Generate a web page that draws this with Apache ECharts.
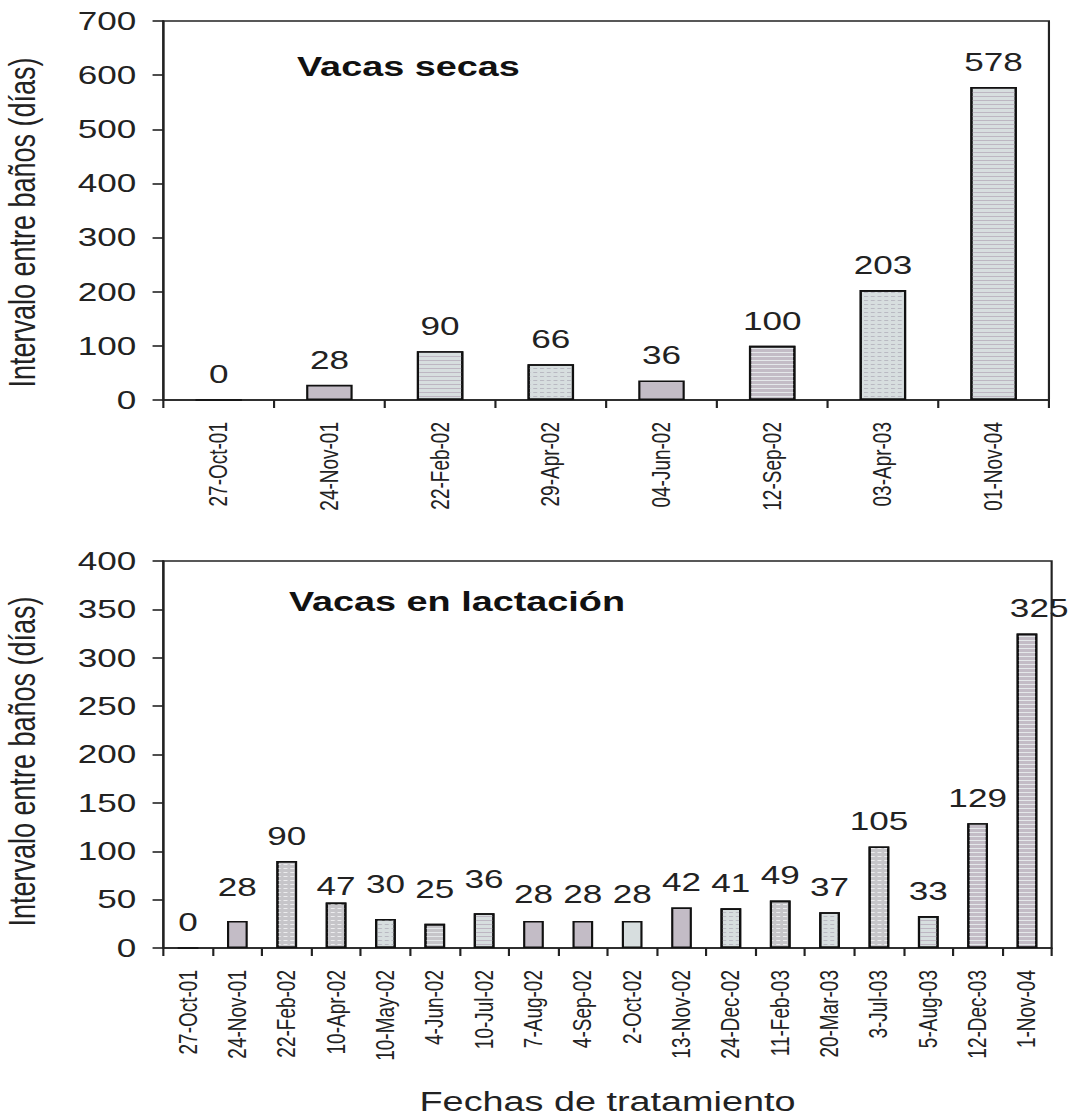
<!DOCTYPE html>
<html>
<head>
<meta charset="utf-8">
<script src="https://cdn.jsdelivr.net/npm/echarts@6/dist/echarts.min.js"></script>
<style>
  html, body { margin: 0; padding: 0; background: #fff; overflow: hidden; }
  /* the figure is laid out narrow and widened horizontally as a whole */
  #chart { width: 796px; height: 1116px; transform: scaleX(1.35); transform-origin: 0 0; }
</style>
</head>
<body>
<div id="chart"></div>
<script>
// Vacas secas: dates of treatment and interval between baths (days)
const dryDates = ['27-Oct-01', '24-Nov-01', '22-Feb-02', '29-Apr-02', '04-Jun-02', '12-Sep-02', '03-Apr-03', '01-Nov-04'];
const dryDays = [0, 28, 90, 66, 36, 100, 203, 578];

// Vacas en lactación
const lactDates = ['27-Oct-01', '24-Nov-01', '22-Feb-02', '10-Apr-02', '10-May-02', '4-Jun-02', '10-Jul-02', '7-Aug-02',
  '4-Sep-02', '2-Oct-02', '13-Nov-02', '24-Dec-02', '11-Feb-03', '20-Mar-03', '3-Jul-03', '5-Aug-03', '12-Dec-03', '1-Nov-04'];
const lactDays = [0, 28, 90, 47, 30, 25, 36, 28, 28, 28, 42, 41, 49, 37, 105, 33, 129, 325];

// y-axis ranges
const dryAxis = { max: 700, step: 100 };
const lactAxis = { max: 400, step: 50 };

// fill pattern of each bar
const dryFill = ['L', 'P', 'Lh', 'Ld', 'P', 'Ph', 'Ld', 'Lh'];
const lactFill = ['L', 'P', 'Gd', 'Gd', 'Ld', 'Gh', 'Lh', 'P', 'P', 'L', 'P', 'Ld', 'Gd', 'Ld', 'Gd', 'Lh', 'Ph', 'Ph'];

// hand-placed value labels in the lactation panel: [dx, lift]
const lactLabelNudge = { 1: [0, 9], 3: [0, -9], 4: [0, 10], 5: [0, 10], 6: [0, 9], 7: [0, 2], 8: [0, 2], 9: [0, 2], 17: [9, 0] };

const FONT = '"Liberation Sans", Arial, Helvetica, sans-serif';
const INK = '#222';
const PURPLE = '#c3bcc6';
const LIGHT = '#d7dedf';
const GREY = '#c6c5c9';

function fillStyle(key) {
  const base = key[0] === 'P' ? PURPLE : key[0] === 'G' ? GREY : LIGHT;
  const style = { color: base, borderColor: '#111', borderWidth: 1.6 };
  if (key[1] === 'h') {
    style.decal = { symbol: 'rect', symbolSize: 1, dashArrayX: [1, 0], dashArrayY: [1, 3], rotation: 0,
      color: key[0] === 'L' ? '#bdb6c2' : '#e4e8ea' };
  } else if (key[1] === 'd') {
    style.decal = { symbol: 'rect', symbolSize: 1, dashArrayX: [3, 2], dashArrayY: [1, 3], rotation: 0,
      color: key[0] === 'L' ? '#b9b9c2' : '#ececee' };
  }
  return style;
}

function barData(values, fills, nudge) {
  return values.map((v, i) => {
    const item = { value: v, itemStyle: fillStyle(fills[i]) };
    const n = nudge && nudge[i];
    if (n) item.label = { offset: [n[0], -n[1]] };
    return item;
  });
}

const axisLine = { show: true, lineStyle: { color: '#222', width: 1.6 } };

function catAxis(gridIndex, dates, extra) {
  return Object.assign({
    type: 'category', gridIndex, data: dates, boundaryGap: true,
    axisLine, axisTick: { show: true, length: 8, inside: false, alignWithLabel: false, lineStyle: { color: '#222', width: 1.6 } },
    axisLabel: { rotate: 90, margin: 22, interval: 0, color: INK, fontFamily: FONT, fontSize: 19 }
  }, extra || {});
}

// shift: moves the rotated axis title down along the axis
function valAxis(gridIndex, range, shift) {
  return {
    type: 'value', gridIndex, min: 0, max: range.max, interval: range.step,
    name: 'Intervalo entre baños (días)', nameLocation: 'middle', nameRotate: 90, nameGap: 91,
    nameTextStyle: { color: INK, fontFamily: FONT, fontSize: 27, padding: [0, shift * 2, 0, 0] },
    axisLine, splitLine: { show: false },
    axisTick: { show: true, length: 8, lineStyle: { color: '#222', width: 1.6 } },
    axisLabel: { margin: 20, color: INK, fontFamily: FONT, fontSize: 26 }
  };
}

const valueLabel = { show: true, position: 'top', distance: 12, color: INK, fontFamily: FONT, fontSize: 26 };

const chart = echarts.init(document.getElementById('chart'), null, { renderer: 'svg' });
chart.setOption({
  animation: false,
  backgroundColor: '#fff',
  title: [
    { text: 'Vacas secas', left: 220, top: 52, padding: 0,
      textStyle: { fontFamily: FONT, fontSize: 28, fontWeight: 'bold', color: '#111' } },
    { text: 'Vacas en lactación', left: 214, top: 587, padding: 0,
      textStyle: { fontFamily: FONT, fontSize: 28, fontWeight: 'bold', color: '#111' } }
  ],
  grid: [
    { left: 121, right: 19, top: 21, height: 379, outerBoundsMode: 'none', containLabel: false,
      show: true, borderColor: '#222', borderWidth: 1.6, backgroundColor: 'transparent' },
    { left: 121, right: 17, top: 561, height: 387, outerBoundsMode: 'none', containLabel: false,
      show: true, borderColor: '#222', borderWidth: 1.6, backgroundColor: 'transparent' }
  ],
  xAxis: [
    catAxis(0, dryDates),
    catAxis(1, lactDates, {
      name: 'Fechas de tratamiento', nameLocation: 'middle', nameGap: 139,
      nameTextStyle: { color: INK, fontFamily: FONT, fontSize: 28 }
    })
  ],
  yAxis: [valAxis(0, dryAxis, 12), valAxis(1, lactAxis, 7)],
  series: [
    { type: 'bar', xAxisIndex: 0, yAxisIndex: 0, barWidth: '42%', data: barData(dryDays, dryFill), label: valueLabel },
    { type: 'bar', xAxisIndex: 1, yAxisIndex: 1, barWidth: '42%', data: barData(lactDays, lactFill, lactLabelNudge), label: valueLabel }
  ]
});
</script>
</body>
</html>
